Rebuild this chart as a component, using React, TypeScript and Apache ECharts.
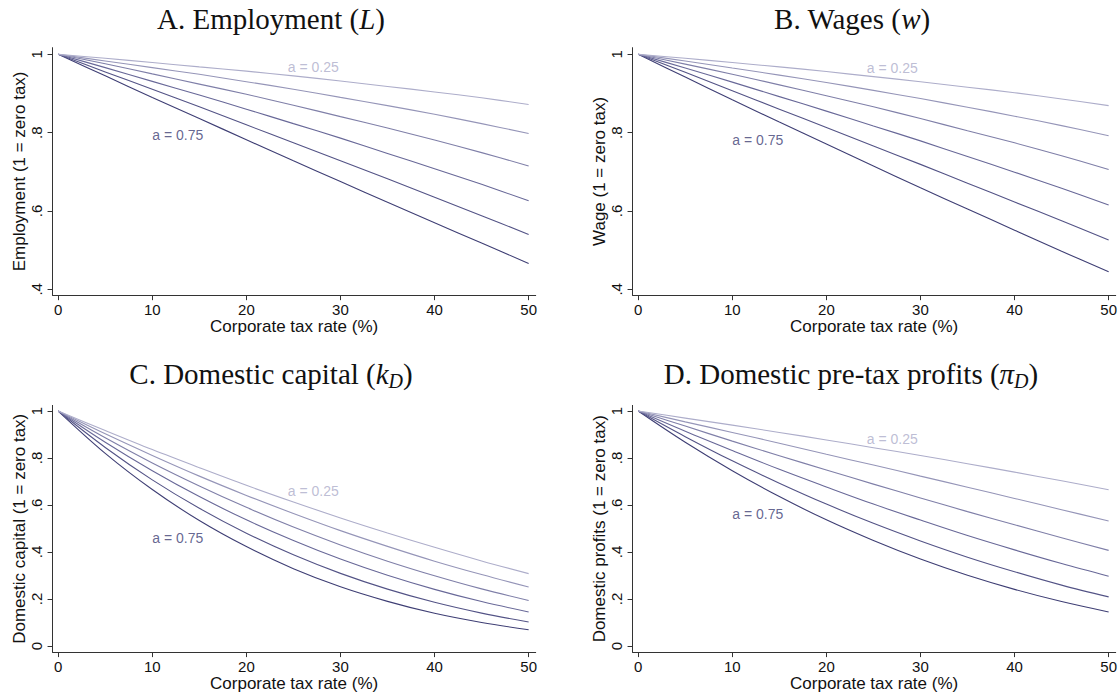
import React, { useEffect, useRef } from "react";
import * as echarts from "echarts";

// Corporate tax rate (%) at which every curve is read
const TAX = [0, 5, 10, 15, 20, 25, 30, 35, 40, 45, 50];
const A_LEVELS = ["0.25", "0.35", "0.45", "0.55", "0.65", "0.75"];

// A. Employment (one row per a = 0.25 ... 0.75)
const EMPLOYMENT = [
  [1, 0.990, 0.979, 0.968, 0.957, 0.945, 0.932, 0.918, 0.904, 0.889, 0.872],
  [1, 0.983, 0.966, 0.949, 0.930, 0.911, 0.890, 0.869, 0.847, 0.823, 0.798],
  [1, 0.976, 0.950, 0.924, 0.898, 0.870, 0.841, 0.812, 0.781, 0.749, 0.715],
  [1, 0.966, 0.931, 0.896, 0.860, 0.823, 0.786, 0.747, 0.708, 0.668, 0.626],
  [1, 0.955, 0.911, 0.866, 0.820, 0.774, 0.728, 0.682, 0.635, 0.588, 0.540],
  [1, 0.945, 0.890, 0.836, 0.782, 0.728, 0.675, 0.622, 0.570, 0.518, 0.466],
];

// B. Wages
const WAGES = [
  [1, 0.990, 0.979, 0.968, 0.956, 0.943, 0.930, 0.916, 0.902, 0.886, 0.869],
  [1, 0.983, 0.965, 0.947, 0.928, 0.908, 0.887, 0.865, 0.842, 0.818, 0.792],
  [1, 0.975, 0.949, 0.922, 0.894, 0.866, 0.836, 0.805, 0.774, 0.741, 0.706],
  [1, 0.965, 0.929, 0.892, 0.855, 0.817, 0.779, 0.739, 0.699, 0.658, 0.615],
  [1, 0.954, 0.907, 0.860, 0.813, 0.766, 0.719, 0.671, 0.623, 0.575, 0.526],
  [1, 0.942, 0.884, 0.827, 0.771, 0.715, 0.659, 0.605, 0.551, 0.497, 0.445],
];

// C. Domestic capital
const CAPITAL = [
  [1, 0.917, 0.836, 0.759, 0.684, 0.613, 0.545, 0.481, 0.420, 0.362, 0.308],
  [1, 0.903, 0.811, 0.723, 0.641, 0.564, 0.491, 0.424, 0.361, 0.304, 0.251],
  [1, 0.886, 0.779, 0.681, 0.590, 0.506, 0.430, 0.361, 0.299, 0.243, 0.194],
  [1, 0.867, 0.746, 0.636, 0.537, 0.449, 0.370, 0.301, 0.241, 0.189, 0.145],
  [1, 0.845, 0.707, 0.586, 0.480, 0.388, 0.309, 0.242, 0.186, 0.140, 0.102],
  [1, 0.820, 0.666, 0.534, 0.423, 0.329, 0.252, 0.190, 0.139, 0.100, 0.069],
];

// D. Domestic pre-tax profits
const PROFITS = [
  [1, 0.970, 0.940, 0.909, 0.877, 0.844, 0.811, 0.776, 0.740, 0.703, 0.665],
  [1, 0.954, 0.909, 0.863, 0.816, 0.770, 0.723, 0.676, 0.628, 0.580, 0.532],
  [1, 0.936, 0.872, 0.810, 0.749, 0.689, 0.630, 0.572, 0.516, 0.461, 0.407],
  [1, 0.914, 0.832, 0.752, 0.677, 0.604, 0.536, 0.470, 0.409, 0.351, 0.297],
  [1, 0.891, 0.788, 0.693, 0.604, 0.522, 0.447, 0.378, 0.316, 0.259, 0.209],
  [1, 0.867, 0.746, 0.636, 0.537, 0.449, 0.370, 0.301, 0.241, 0.189, 0.145],
];

const X_TICKS = [0, 10, 20, 30, 40, 50];
const Y_TICKS_TOP = [0.4, 0.6, 0.8, 1];
const Y_TICKS_BOTTOM = [0, 0.2, 0.4, 0.6, 0.8, 1];

// where the "a = 0.25" / "a = 0.75" notes sit, in data units (left edge, middle)
const NOTE_LOW_A = [[24.4, 0.967], [24.3, 0.964], [24.4, 0.658], [24.3, 0.88]];
const NOTE_HIGH_A = [[10.0, 0.794], [10.0, 0.78], [10.0, 0.461], [10.0, 0.563]];

const COLORS = ["#adadca", "#9595b8", "#7f7fa8", "#686898", "#535386", "#3e3e74"];
const SANS = "'Liberation Sans', Arial, Helvetica, sans-serif";
const SERIF = "'Liberation Serif', 'Times New Roman', serif";

function fmtY(v: number) {
  if (Math.abs(v) < 1e-9) return "0";
  if (Math.abs(v - 1) < 1e-9) return "1";
  return v.toFixed(1).replace(/^0/, "");
}

export default function App() {
  const ref = useRef<HTMLDivElement>(null);
  useEffect(() => {
    document.body.style.margin = "0";
    const chart = echarts.init(ref.current!, null, { renderer: "svg" });

    const panels = [
      { left: 52.56, top: 47.67, height: 247.5, data: EMPLOYMENT, yMin: 0.385, yMax: 1.017, yTicks: Y_TICKS_TOP, yName: "Employment (1 = zero tax)" },
      { left: 632.56, top: 47.67, height: 247.5, data: WAGES, yMin: 0.385, yMax: 1.017, yTicks: Y_TICKS_TOP, yName: "Wage (1 = zero tax)" },
      { left: 52.56, top: 405.4, height: 246.7, data: CAPITAL, yMin: -0.026, yMax: 1.024, yTicks: Y_TICKS_BOTTOM, yName: "Domestic capital (1 = zero tax)" },
      { left: 632.56, top: 405.4, height: 246.7, data: PROFITS, yMin: -0.026, yMax: 1.024, yTicks: Y_TICKS_BOTTOM, yName: "Domestic profits (1 = zero tax)" },
    ];

    const axisColor = "#333";
    const grid: any[] = [];
    const xAxis: any[] = [];
    const yAxis: any[] = [];
    const series: any[] = [];

    panels.forEach((p, i) => {
      grid.push({ left: p.left, top: p.top, width: 483.14, height: p.height, containLabel: false });
      xAxis.push({
        type: "value",
        gridIndex: i,
        min: -0.6,
        max: 50.75,
        splitLine: { show: false },
        axisLine: { show: true, onZero: false, lineStyle: { color: axisColor, width: 1 } },
        axisTick: { show: true, length: 5, customValues: X_TICKS, lineStyle: { color: axisColor } },
        axisLabel: { customValues: X_TICKS, fontSize: 15, color: "#111", fontFamily: SANS, margin: 7 },
        name: "Corporate tax rate (%)",
        nameLocation: "middle",
        nameGap: 23,
        nameTextStyle: { fontSize: 17, color: "#111", fontFamily: SANS },
      });
      yAxis.push({
        type: "value",
        gridIndex: i,
        min: p.yMin,
        max: p.yMax,
        splitLine: { show: false },
        axisLine: { show: true, onZero: false, lineStyle: { color: axisColor, width: 1 } },
        axisTick: { show: true, length: 5, customValues: p.yTicks, lineStyle: { color: axisColor } },
        axisLabel: { customValues: p.yTicks, rotate: 90, fontSize: 15, color: "#111", fontFamily: SANS, margin: 9, formatter: fmtY },
        name: p.yName,
        nameLocation: "middle",
        nameGap: 25,
        nameTextStyle: { fontSize: 17, color: "#111", fontFamily: SANS },
      });
      p.data.forEach((row, k) => {
        series.push({
          type: "line",
          name: `a = ${A_LEVELS[k]}`,
          xAxisIndex: i,
          yAxisIndex: i,
          data: TAX.map((t, j) => [t, row[j]]),
          showSymbol: false,
          symbol: "none",
          smooth: 0.35,
          lineStyle: { color: COLORS[k], width: 1.1 },
          z: 10 - k,
        });
      });
      [
        { pos: NOTE_LOW_A[i], text: `a = ${A_LEVELS[0]}`, color: COLORS[0] },
        { pos: NOTE_HIGH_A[i], text: `a = ${A_LEVELS[5]}`, color: COLORS[5] },
      ].forEach((n) => {
        series.push({
          type: "scatter",
          xAxisIndex: i,
          yAxisIndex: i,
          symbolSize: 0,
          data: [n.pos],
          silent: true,
          label: {
            show: true,
            position: "right",
            distance: 0,
            formatter: n.text,
            color: n.color,
            fontSize: 14,
            fontFamily: SANS,
          },
        });
      });
    });

    const titleRich = {
      n: { fontFamily: SERIF, fontSize: 29, fill: "#111", verticalAlign: "middle" },
      i: { fontFamily: SERIF, fontSize: 29, fontStyle: "italic", fill: "#111", verticalAlign: "middle" },
      s: { fontFamily: SERIF, fontSize: 20, fontStyle: "italic", fill: "#111", verticalAlign: "middle", padding: [14, 0, 0, 0] },
    };
    const titles = [
      { x: 271, y: 19, text: "{n|A. Employment (}{i|L}{n|)}" },
      { x: 852, y: 19, text: "{n|B. Wages (}{i|w}{n|)}" },
      { x: 271, y: 374, text: "{n|C. Domestic capital (}{i|k}{s|D}{n|)}" },
      { x: 851, y: 374, text: "{n|D. Domestic pre-tax profits (}{i|π}{s|D}{n|)}" },
    ];

    chart.setOption({
      animation: false,
      backgroundColor: "#fff",
      grid,
      xAxis,
      yAxis,
      series,
      graphic: titles.map((t) => ({
        type: "text",
        x: t.x,
        y: t.y,
        style: { text: t.text, rich: titleRich, align: "center", verticalAlign: "middle", fill: "#111" },
      })),
    });
    return () => chart.dispose();
  }, []);
  return <div ref={ref} style={{ width: 1120, height: 694 }} />;
}
